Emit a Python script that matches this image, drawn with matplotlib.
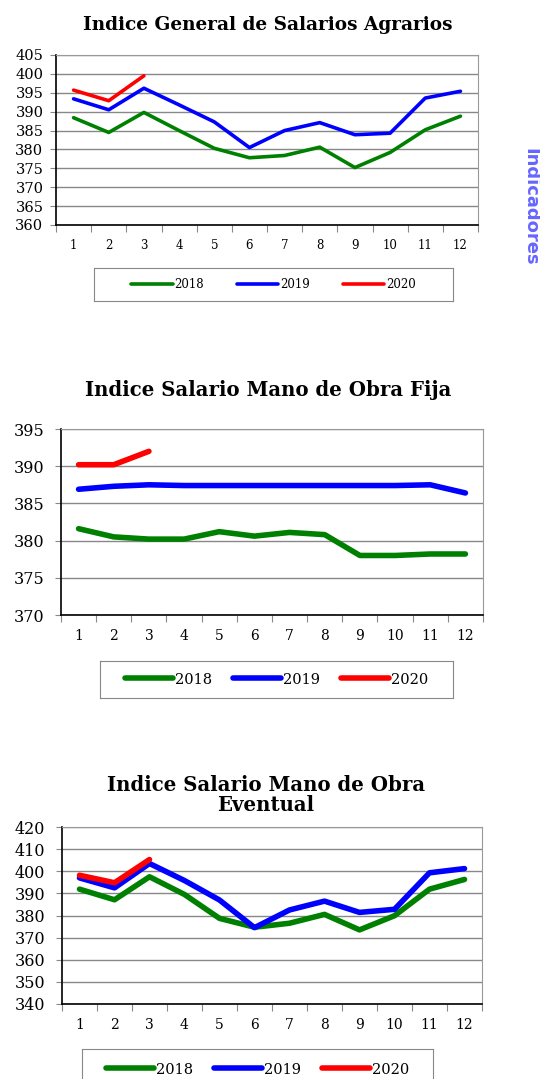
import matplotlib
matplotlib.use("Agg")
import matplotlib.pyplot as plt

W, H = 540, 1079

meses = list(range(1, 13))
anios = ["2018", "2019", "2020"]
colores = ["green", "blue", "red"]

# Indice General de Salarios Agrarios
general_2018 = [388.4, 384.5, 389.8, 385.0, 380.3, 377.8, 378.4, 380.6, 375.2, 379.2, 385.2, 388.8]
general_2019 = [393.4, 390.5, 396.2, 391.8, 387.3, 380.5, 385.0, 387.1, 383.9, 384.3, 393.6, 395.4]
general_2020 = [395.7, 392.9, 399.5]

# Indice Salario Mano de Obra Fija
fija_2018 = [381.6, 380.5, 380.2, 380.2, 381.2, 380.6, 381.1, 380.8, 378.0, 378.0, 378.2, 378.2]
fija_2019 = [386.9, 387.3, 387.5, 387.4, 387.4, 387.4, 387.4, 387.4, 387.4, 387.4, 387.5, 386.4]
fija_2020 = [390.2, 390.2, 392.0]

# Indice Salario Mano de Obra Eventual
eventual_2018 = [391.9, 387.1, 397.5, 389.5, 378.7, 374.7, 376.5, 380.5, 373.5, 379.9, 391.9, 396.3]
eventual_2019 = [397.0, 392.5, 403.5, 395.8, 387.0, 374.5, 382.5, 386.5, 381.4, 382.8, 399.3, 401.2]
eventual_2020 = [398.2, 394.8, 405.3]


def px(l, t, r, b):
    return [l / W, 1 - b / H, (r - l) / W, (b - t) / H]


def grafico(fig, caja, series, ylim, paso, lw, fs_y, fs_x, pad_y):
    ax = fig.add_axes(px(*caja))
    for datos, c in zip(series, colores):
        ax.plot(meses[:len(datos)], datos, color=c, lw=lw, solid_capstyle="round")
    ax.set_xlim(0.5, 12.5)
    ax.set_ylim(*ylim)
    ax.set_yticks(range(ylim[0], ylim[1] + 1, paso))
    ax.set_xticks([i + 0.5 for i in range(0, 13)])
    ax.set_xticklabels([])
    ax.set_xticks(meses, minor=True)
    ax.set_xticklabels([str(m) for m in meses], minor=True, fontsize=fs_x, family="DejaVu Serif")
    ax.tick_params(axis="x", which="major", length=5, color="#888888", direction="out")
    ax.tick_params(axis="x", which="minor", length=0, pad=10)
    ax.tick_params(axis="y", length=4, color="#888888", pad=pad_y)
    for t in ax.get_yticklabels():
        t.set_fontsize(fs_y)
        t.set_family("DejaVu Serif")
    ax.grid(axis="y", color="#888888", lw=1)
    ax.set_axisbelow(True)
    ax.spines["left"].set_color("black")
    ax.spines["bottom"].set_color("black")
    ax.spines["top"].set_color("#999999")
    ax.spines["right"].set_color("#999999")
    ax.spines["left"].set_linewidth(1.2)
    ax.spines["bottom"].set_linewidth(1.2)
    return ax


def leyenda(fig, caja, lw, fs, hl, cs):
    lax = fig.add_axes(px(*caja))
    lax.set_xticks([])
    lax.set_yticks([])
    for s in lax.spines.values():
        s.set_color("#888888")
    handles = [plt.Line2D([], [], color=c, lw=lw, solid_capstyle="round") for c in colores]
    lax.legend(handles, anios, loc="center", ncol=3, frameon=False,
               prop={"family": "DejaVu Serif", "size": fs},
               handlelength=hl, handletextpad=0.15, columnspacing=cs)


fig = plt.figure(figsize=(W / 100, H / 100), dpi=100)

# grafico 1
fig.text(268 / W, 1 - 25 / H, "Indice General de Salarios Agrarios", ha="center", va="center",
         family="DejaVu Serif", weight="bold", fontsize=13.3)
grafico(fig, (56, 55, 478, 225), [general_2018, general_2019, general_2020], (360, 405), 5, 2.6, 10.5, 8.5, 5)
leyenda(fig, (94, 268, 453, 301), 2.6, 8.5, 3.5, 2.8)

# grafico 2
fig.text(268 / W, 1 - 390 / H, "Indice Salario Mano de Obra Fija", ha="center", va="center",
         family="DejaVu Serif", weight="bold", fontsize=14.2)
grafico(fig, (61, 429, 483, 615), [fija_2018, fija_2019, fija_2020], (370, 395), 5, 4.0, 11.5, 10, 8)
leyenda(fig, (100, 661, 453, 698), 4.0, 10.5, 3.3, 1.4)

# grafico 3
fig.text(266 / W, 1 - 795 / H, "Indice Salario Mano de Obra\nEventual", ha="center", va="center",
         family="DejaVu Serif", weight="bold", fontsize=14.2, linespacing=1.0)
grafico(fig, (62, 827, 482, 1004), [eventual_2018, eventual_2019, eventual_2020], (340, 420), 10, 4.0, 11.5, 10, 8)
leyenda(fig, (82, 1049, 433, 1090), 4.0, 10.5, 3.3, 1.4)

fig.text(530 / W, 1 - 207 / H, "Indicadores", rotation=-90, ha="center", va="center",
         color="#6666ff", weight="bold", fontsize=13, family="DejaVu Sans")

fig.savefig("out.png", dpi=100)
